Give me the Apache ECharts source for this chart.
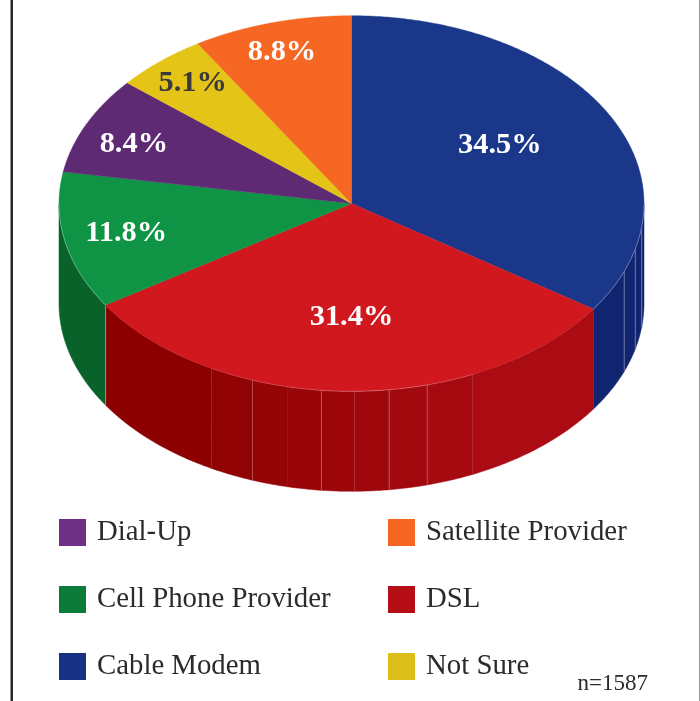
<!DOCTYPE html>
<html>
<head>
<meta charset="utf-8">
<style>html,body{margin:0;padding:0;background:#fff}#chart{width:700px;height:701px}</style>
<script src="https://cdn.jsdelivr.net/npm/echarts@6/dist/echarts.min.js"></script>
</head>
<body>
<div id="chart"></div>
<script>
// Survey shares, clockwise from twelve o'clock
const categories = ['Cable Modem', 'DSL', 'Cell Phone Provider', 'Dial-Up', 'Not Sure', 'Satellite Provider'];
const shares = [34.5, 31.4, 11.8, 8.4, 5.1, 8.8];
const sampleNote = 'n=1587';

// Legend columns
const legendLeft = ['Dial-Up', 'Cell Phone Provider', 'Cable Modem'];
const legendRight = ['Satellite Provider', 'DSL', 'Not Sure'];

// Colours by category
const topColors = {
  'Cable Modem': '#1a378a', 'DSL': '#d0181e', 'Cell Phone Provider': '#0f9445',
  'Dial-Up': '#5f2a74', 'Not Sure': '#e3c417', 'Satellite Provider': '#f56722'
};
const legendColors = {
  'Cable Modem': '#173282', 'DSL': '#b50e16', 'Cell Phone Provider': '#0c7a38',
  'Dial-Up': '#6e3084', 'Not Sure': '#dbbe17', 'Satellite Provider': '#f66522'
};
const labelColors = { 'Not Sure': '#3a3a3a' };

// Label placement as a share of the ellipse radii along the slice's mid angle
const labelReach = {
  'Cable Modem': [0.574, 0.684], 'DSL': [0, 0.597], 'Cell Phone Provider': [0.786, 0.75],
  'Dial-Up': [0.82, 0.776], 'Not Sure': [0.83, 0.86], 'Satellite Provider': [0.87, 0.85]
};

// Wall shading: each band ends at an angle (degrees clockwise from top).
// seam = opacity of the vertical line at the band's end, rim = opacity of the top edge over it.
const wallBands = {
  'Cable Modem': [
    { to: 97.2, color: '#10246f', seam: 0.35, rim: 0.3 },
    { to: 104, color: '#10246f', seam: 0.35, rim: 0.3 },
    { to: 111.2, color: '#10246f', seam: 0.35, rim: 0.3 },
    { to: 124.2, color: '#10246f', seam: 0, rim: 0.3 }
  ],
  'DSL': [
    { to: 155.5, color: '#ab0c14', seam: 0.1, rim: 0.02 },
    { to: 165, color: '#a60a10', seam: 0.25, rim: 0.2 },
    { to: 172.6, color: '#a2090e', seam: 0.3, rim: 0.25 },
    { to: 179.45, color: '#9e070b', seam: 0.12, rim: 0.3 },
    { to: 185.9, color: '#9c060a', seam: 0.3, rim: 0.25 },
    { to: 192.7, color: '#990508', seam: 0, rim: 0.2 },
    { to: 199.8, color: '#950406', seam: 0.25, rim: 0.15 },
    { to: 208.6, color: '#900203', seam: 0.1, rim: 0.1 },
    { to: 237.2, color: '#8c0000', seam: 0.4, rim: 0.02 }
  ],
  'Cell Phone Provider': [
    { to: 270, color: '#08622a', seam: 0, rim: 0.3 }
  ]
};

// Pie geometry
const CX = 351.5, CY = 203.5, RX = 292.5, RY = 187.8, DEPTH = 100;
const LABEL_DROP = 2;
const FACE_FONT = '"Liberation Serif", serif';

function rimPoint(deg, drop) {
  const a = deg * Math.PI / 180;
  return [CX + RX * Math.sin(a), CY - RY * Math.cos(a) + (drop || 0)];
}

function arcPoints(from, to, drop) {
  const pts = [];
  const n = Math.max(2, Math.ceil((to - from) / 0.5));
  for (let i = 0; i <= n; i++) pts.push(rimPoint(from + (to - from) * i / n, drop));
  return pts;
}

function renderSlice(name) {
  return function (params, api) {
    const startDeg = api.value(1) * 3.6;
    const endDeg = (api.value(1) + api.value(0)) * 3.6;
    const children = [];

    // Front wall
    let from = name === 'Cable Modem' ? 90 : startDeg;
    (wallBands[name] || []).forEach(function (band) {
      const top = arcPoints(from, band.to, 0);
      const bottom = arcPoints(from, band.to, DEPTH).reverse();
      children.push({
        type: 'polygon', z2: 1,
        shape: { points: top.concat(bottom) },
        style: { fill: band.color, stroke: band.color, lineWidth: 0.5 }
      });
      if (band.seam > 0) {
        const s = rimPoint(band.to, 0);
        children.push({
          type: 'line', z2: 2,
          shape: { x1: s[0], y1: s[1], x2: s[0], y2: s[1] + DEPTH },
          style: { stroke: 'rgba(255,255,255,' + band.seam + ')', lineWidth: 1 }
        });
      }
      from = band.to;
    });

    // Top face
    const face = [[CX, CY]].concat(arcPoints(startDeg, endDeg, 0));
    children.push({
      type: 'polygon', z2: 3,
      shape: { points: face },
      style: { fill: topColors[name], stroke: topColors[name], lineWidth: 0.4 }
    });

    // Light rim along the front edge of the top face
    from = name === 'Cable Modem' ? 90 : startDeg;
    (wallBands[name] || []).forEach(function (band) {
      if (band.rim > 0) {
        children.push({
          type: 'polyline', z2: 4,
          shape: { points: arcPoints(from, band.to, 0) },
          style: { fill: null, stroke: 'rgba(255,255,255,' + band.rim + ')', lineWidth: 1 }
        });
      }
      from = band.to;
    });

    // Value label
    const mid = (startDeg + endDeg) / 2 * Math.PI / 180;
    const reach = labelReach[name];
    children.push({
      type: 'text', z2: 5,
      x: CX + RX * reach[0] * Math.sin(mid),
      y: CY - RY * reach[1] * Math.cos(mid) + LABEL_DROP,
      style: {
        text: api.value(0).toFixed(1) + '%',
        fill: labelColors[name] || '#ffffff',
        font: 'bold 30.4px ' + FACE_FONT,
        textAlign: 'center', textVerticalAlign: 'middle'
      }
    });
    return { type: 'group', children: children };
  };
}

let running = 0;
const series = categories.map(function (name, i) {
  const s = {
    type: 'custom', name: name, coordinateSystem: 'none', silent: true,
    itemStyle: { color: legendColors[name] },
    data: [[shares[i], running]],
    renderItem: renderSlice(name),
    animation: false
  };
  running += shares[i];
  return s;
});

function legendColumn(names, left) {
  return {
    orient: 'vertical', left: left, top: 518, padding: 0,
    itemWidth: 27, itemHeight: 27, itemGap: 38, icon: 'rect', selectedMode: false,
    textStyle: { fontFamily: FACE_FONT, fontSize: 28.8, color: '#2b2b2b', padding: [0, 0, 0, 6], lineHeight: 27 },
    data: names.map(function (n) { return { name: n, itemStyle: { color: legendColors[n] } }; })
  };
}

const chart = echarts.init(document.getElementById('chart'), null, { renderer: 'canvas' });
chart.setOption({
  animation: false,
  backgroundColor: '#ffffff',
  legend: [legendColumn(legendLeft, 59), legendColumn(legendRight, 388)],
  graphic: [
    { type: 'rect', shape: { x: 10.5, y: 0, width: 2.5, height: 701 }, style: { fill: '#2a2a2a' } },
    { type: 'rect', shape: { x: 699, y: 0, width: 1, height: 701 }, style: { fill: '#999999' } },
    {
      type: 'text', x: 648, y: 684,
      style: { text: sampleNote, fill: '#2b2b2b', font: '23px ' + FACE_FONT, textAlign: 'right', textVerticalAlign: 'middle' }
    }
  ],
  series: series
});
</script>
</body>
</html>
